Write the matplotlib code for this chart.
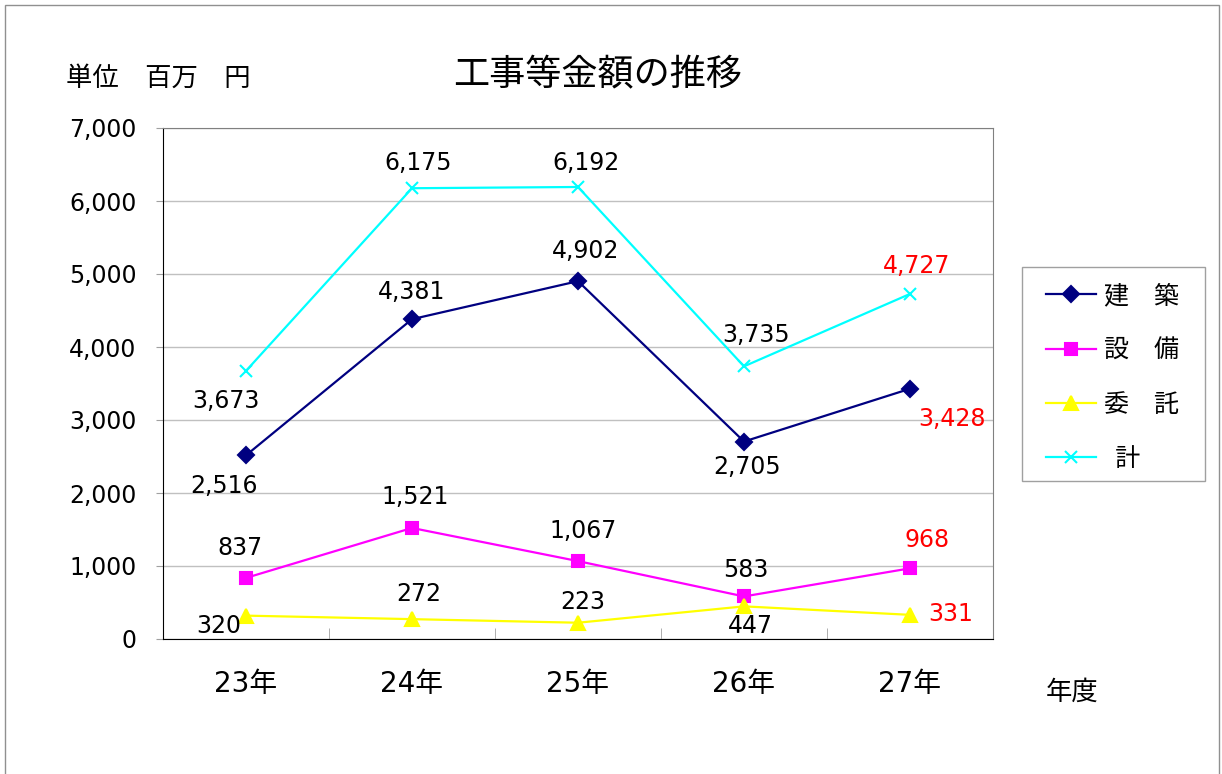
import matplotlib
matplotlib.use("Agg")
import matplotlib.pyplot as plt
from matplotlib.patches import Rectangle

plt.rcParams['font.family'] = ['DejaVu Sans', 'Noto Sans CJK JP']
jp = ['Noto Sans CJK JP', 'DejaVu Sans']

# データ
years = ['23年', '24年', '25年', '26年', '27年']
kenchiku = [2516, 4381, 4902, 2705, 3428]
setsubi = [837, 1521, 1067, 583, 968]
itaku = [320, 272, 223, 447, 331]
kei = [3673, 6175, 6192, 3735, 4727]
names = ['建　築', '設　備', '委　託', '  計']

# ラベル位置 (ピクセル)
off_kenchiku = [(-22, -31), (0, 27), (8, 30), (3, -25), (42, -30)]
off_setsubi = [(-6, 30), (3, 31), (5, 30), (2, 26), (17, 28)]
off_itaku = [(-27, -10), (7, 25), (5, 21), (6, -20), (41, 1)]
off_kei = [(-20, -30), (6, 25), (8, 24), (12, 31), (7, 28)]

fig = plt.figure(figsize=(12.22, 7.74), dpi=100)
ax = fig.add_axes([163 / 1222, 1 - 639 / 774, 830 / 1222, 511 / 774])

x = list(range(len(years)))
series = [
    (kenchiku, '#000080', 'D', 8, off_kenchiku),
    (setsubi, '#ff00ff', 's', 9, off_setsubi),
    (itaku, '#ffff00', '^', 10, off_itaku),
    (kei, '#00ffff', 'x', 9, off_kei),
]
for (vals, col, mk, ms, offs), name in zip(series, names):
    ax.plot(x, vals, color=col, marker=mk, markersize=ms, lw=1.6,
            mew=1.5, label=name, zorder=3)
    for i, v in enumerate(vals):
        c = 'red' if i == len(vals) - 1 else 'black'
        ax.annotate(f'{v:,}', (i, v), xytext=offs[i], textcoords='offset pixels',
                    ha='center', va='center', fontsize=17, color=c)

ax.set_xlim(-0.5, 4.5)
ax.set_ylim(0, 7000)
ax.set_yticks(range(0, 7001, 1000))
ax.set_yticklabels([f'{v:,}' for v in range(0, 7001, 1000)], fontsize=17)
ax.set_xticks(x)
ax.set_xticklabels(years, fontsize=20)
ax.set_xticks([0.5, 1.5, 2.5, 3.5], minor=True)
ax.tick_params(axis='x', which='major', length=0, pad=22)
ax.tick_params(axis='x', which='minor', direction='in', length=8, color='#a0a0a0')
ax.tick_params(axis='y', length=5, color='#a0a0a0', pad=14)
ax.grid(axis='y', color='#c0c0c0', lw=1)
ax.set_axisbelow(True)
for s in ['top', 'right']:
    ax.spines[s].set_color('#808080')
for s in ['left', 'bottom']:
    ax.spines[s].set_color('black')

# 凡例 (枠は別に描く)
leg = ax.legend(loc='upper left', bbox_to_anchor=(1046 / 1222, 1 - 283 / 774),
                bbox_transform=fig.transFigure, frameon=False,
                prop={'family': jp, 'size': 18},
                handlelength=2.0, handletextpad=0.3, labelspacing=1.13,
                borderpad=0, borderaxespad=0)
fig.patches.append(Rectangle((1022 / 1222, 1 - 481 / 774), 183 / 1222, 214 / 774,
                             transform=fig.transFigure, fill=False,
                             edgecolor='#a0a0a0', lw=1))

fig.text(598 / 1222, 1 - 75 / 774, '工事等金額の推移', fontsize=26,
         family=jp, ha='center', va='center')
fig.text(66 / 1222, 1 - 78 / 774, '単位　百万　円', fontsize=19,
         family=jp, ha='left', va='center')
fig.text(1072 / 1222, 1 - 692 / 774, '年度', fontsize=19,
         family=jp, ha='center', va='center')

fig.patches.append(Rectangle((5 / 1222, -0.01), 1214 / 1222, 1 - 5 / 774 + 0.01,
                             transform=fig.transFigure, fill=False,
                             edgecolor='#909090', lw=1))

fig.savefig('out.png', dpi=100)
